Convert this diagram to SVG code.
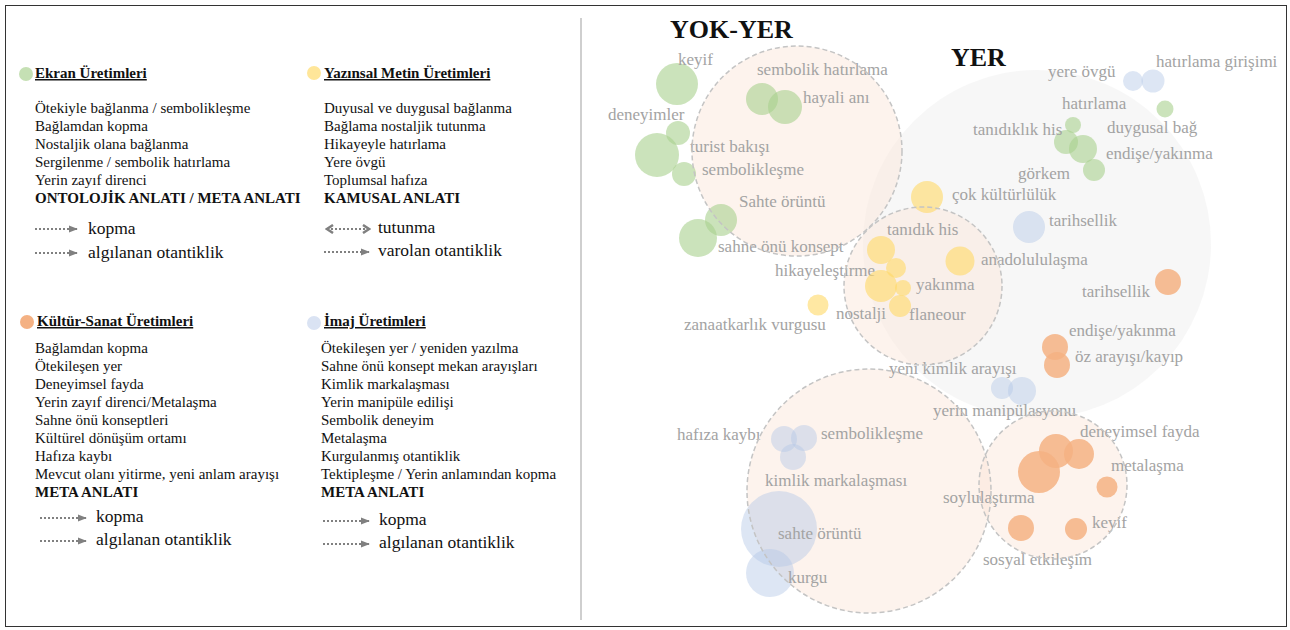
<svg xmlns="http://www.w3.org/2000/svg" width="1290" height="630" viewBox="0 0 1290 630">
<defs>
<style>
text{font-family:'Liberation Serif','Times New Roman','DejaVu Serif',serif}
.lg{font-size:15px;fill:#111}
.lgb{font-size:15px;font-weight:bold;fill:#111}
.lgt{font-size:15px;font-weight:bold;fill:#111;text-decoration:underline}
.ar{font-size:17.5px;fill:#111}
.dl{stroke:#808080;stroke-width:2;stroke-dasharray:2 2;fill:none}
.lb{font-size:17px;fill:#a3a3a3}
.ttl{font-size:26px;font-weight:bold;fill:#111}
.g{fill:#a9d18e;fill-opacity:0.6}
.y{fill:#ffd966;fill-opacity:0.6}
.o{fill:#f4b183;fill-opacity:0.85}
.b{fill:#b4c7e7;fill-opacity:0.45}
.cf{fill:#fbe5d6;fill-opacity:0.45}
.co{fill:none;stroke:#c4c4c4;stroke-width:1.5;stroke-dasharray:5 3}
</style>
<marker id="ah" viewBox="0 0 10 10" refX="9" refY="5" markerWidth="9" markerHeight="9" markerUnits="userSpaceOnUse" orient="auto"><path d="M0,1 L10,5 L0,9 Z" fill="#808080"/></marker>
<marker id="chev" viewBox="0 0 10 10" refX="8" refY="5" markerWidth="10" markerHeight="10" markerUnits="userSpaceOnUse" orient="auto-start-reverse"><path d="M2,1 L8,5 L2,9" fill="none" stroke="#808080" stroke-width="2.5"/></marker>
</defs>
<rect x="0" y="0" width="1290" height="630" fill="#fff"/>
<rect x="5.5" y="5.5" width="1281" height="621" fill="none" stroke="#333" stroke-width="1"/>
<line x1="581" y1="18" x2="581" y2="620" stroke="#bfbfbf" stroke-width="1.5"/>

<g id="legend-ekran" font-family="Liberation Serif, DejaVu Serif, serif">
<circle cx="26" cy="74" r="7" fill="#c5e0b4"/>
<text class="lgt" x="35" y="78">Ekran Üretimleri</text>
<text class="lg" x="35" y="113">Ötekiyle bağlanma / sembolikleşme</text>
<text class="lg" x="35" y="131">Bağlamdan kopma</text>
<text class="lg" x="35" y="149">Nostaljik olana bağlanma</text>
<text class="lg" x="35" y="167">Sergilenme / sembolik hatırlama</text>
<text class="lg" x="35" y="185">Yerin zayıf direnci</text>
<text class="lgb" x="35" y="203">ONTOLOJİK ANLATI / META ANLATI</text>
<text class="ar" x="88" y="234">kopma</text>
<text class="ar" x="88" y="258">algılanan otantiklik</text>
</g>
<g id="legend-yazinsal">
<circle cx="314" cy="73" r="7" fill="#ffe699"/>
<text class="lgt" x="324" y="78">Yazınsal Metin Üretimleri</text>
<text class="lg" x="324" y="113">Duyusal ve duygusal bağlanma</text>
<text class="lg" x="324" y="131">Bağlama nostaljik tutunma</text>
<text class="lg" x="324" y="149">Hikayeyle hatırlama</text>
<text class="lg" x="324" y="167">Yere övgü</text>
<text class="lg" x="324" y="185">Toplumsal hafıza</text>
<text class="lgb" x="324" y="203">KAMUSAL ANLATI</text>
<text class="ar" x="378" y="233">tutunma</text>
<text class="ar" x="378" y="256">varolan otantiklik</text>
</g>
<g id="legend-kultur">
<circle cx="27" cy="322" r="7" fill="#f4b183"/>
<text class="lgt" x="37" y="326">Kültür-Sanat Üretimleri</text>
<text class="lg" x="35" y="353">Bağlamdan kopma</text>
<text class="lg" x="35" y="371">Ötekileşen yer</text>
<text class="lg" x="35" y="389">Deneyimsel fayda</text>
<text class="lg" x="35" y="407">Yerin zayıf direnci/Metalaşma</text>
<text class="lg" x="35" y="425">Sahne önü konseptleri</text>
<text class="lg" x="35" y="443">Kültürel dönüşüm ortamı</text>
<text class="lg" x="35" y="461">Hafıza kaybı</text>
<text class="lg" x="35" y="479">Mevcut olanı yitirme, yeni anlam arayışı</text>
<text class="lgb" x="35" y="497">META ANLATI</text>
<text class="ar" x="96" y="522">kopma</text>
<text class="ar" x="96" y="545">algılanan otantiklik</text>
</g>
<g id="legend-imaj">
<circle cx="314" cy="323" r="7" fill="#dae3f3"/>
<text class="lgt" x="324" y="326">İmaj Üretimleri</text>
<text class="lg" x="321" y="353">Ötekileşen yer / yeniden yazılma</text>
<text class="lg" x="321" y="371">Sahne önü konsept mekan arayışları</text>
<text class="lg" x="321" y="389">Kimlik markalaşması</text>
<text class="lg" x="321" y="407">Yerin manipüle edilişi</text>
<text class="lg" x="321" y="425">Sembolik deneyim</text>
<text class="lg" x="321" y="443">Metalaşma</text>
<text class="lg" x="321" y="461">Kurgulanmış otantiklik</text>
<text class="lg" x="321" y="479">Tektipleşme / Yerin anlamından kopma</text>
<text class="lgb" x="321" y="497">META ANLATI</text>
<text class="ar" x="379" y="525">kopma</text>
<text class="ar" x="379" y="548">algılanan otantiklik</text>
</g>
<g id="legend-arrows">
<line class="dl" x1="35" y1="229" x2="77" y2="229" marker-end="url(#ah)"/>
<line class="dl" x1="35" y1="253" x2="77" y2="253" marker-end="url(#ah)"/>
<line class="dl" x1="327" y1="229" x2="369" y2="229" marker-start="url(#chev)" marker-end="url(#chev)"/>
<line class="dl" x1="324" y1="252" x2="369" y2="252" marker-end="url(#ah)"/>
<line class="dl" x1="40" y1="518" x2="86" y2="518" marker-end="url(#ah)"/>
<line class="dl" x1="40" y1="541" x2="86" y2="541" marker-end="url(#ah)"/>
<line class="dl" x1="323" y1="521" x2="369" y2="521" marker-end="url(#ah)"/>
<line class="dl" x1="323" y1="544" x2="369" y2="544" marker-end="url(#ah)"/>
</g>

<g id="cluster-fills">
<circle cx="1037" cy="244" r="174" fill="#ededed" fill-opacity="0.45"/>
<circle class="cf" cx="797" cy="151" r="105"/>
<circle class="cf" cx="923" cy="286" r="79"/>
<circle class="cf" cx="869" cy="491" r="122"/>
<circle class="cf" cx="1053" cy="485" r="74"/>
</g>
<text class="ttl" x="670" y="38">YOK-YER</text>
<text class="ttl" x="951" y="66">YER</text>

<g id="nodes-ekran">
<g id="n-keyif-g"><circle class="g" cx="677" cy="84" r="21"/><text class="lb" x="678" y="65">keyif</text></g>
<g id="n-sembolik-hatirlama"><circle class="g" cx="762" cy="99" r="16"/><text class="lb" x="757" y="75">sembolik hatırlama</text></g>
<g id="n-hayali-ani"><circle class="g" cx="785" cy="107" r="17"/><text class="lb" x="803" y="103">hayali anı</text></g>
<g id="n-deneyimler"><circle class="g" cx="678" cy="133" r="12"/><text class="lb" x="608" y="120">deneyimler</text></g>
<g id="n-turist-bakisi"><circle class="g" cx="657" cy="155" r="22"/><text class="lb" x="690" y="152">turist bakışı</text></g>
<g id="n-sembolikleşme-g"><circle class="g" cx="684" cy="174" r="12"/><text class="lb" x="702" y="175">sembolikleşme</text></g>
<g id="n-sahte-oruntu-g"><circle class="g" cx="721" cy="220" r="16"/><text class="lb" x="739" y="207">Sahte örüntü</text></g>
<g id="n-sahne-onu"><circle class="g" cx="698" cy="238" r="19"/><text class="lb" x="718" y="252">sahne önü konsept</text></g>
<g id="n-hatirlama"><circle class="g" cx="1073" cy="125" r="8"/><text class="lb" x="1062" y="109">hatırlama</text></g>
<g id="n-duygusal-bag"><circle class="g" cx="1165" cy="109" r="8.5"/><text class="lb" x="1107" y="133">duygusal bağ</text></g>
<g id="n-tanidiklik"><circle class="g" cx="1066" cy="142" r="12"/><text class="lb" x="973" y="135">tanıdıklık his</text></g>
<g id="n-endise-g"><circle class="g" cx="1083" cy="149" r="14"/><text class="lb" x="1106" y="159">endişe/yakınma</text></g>
<g id="n-gorkem"><circle class="g" cx="1094" cy="170" r="11"/><text class="lb" x="1018" y="179">görkem</text></g>
</g>

<g id="nodes-yazinsal">
<g id="n-cok-kulturluluk"><circle class="y" cx="927" cy="197" r="16"/><text class="lb" x="952" y="200">çok kültürlülük</text></g>
<g id="n-tanidik-his"><circle class="y" cx="881" cy="250" r="14"/><text class="lb" x="887" y="235">tanıdık his</text></g>
<g id="n-hikayelestirme"><circle class="y" cx="896" cy="268" r="10"/><text class="lb" x="775" y="276">hikayeleştirme</text></g>
<g id="n-anadolululasma"><circle class="y" cx="960" cy="261" r="14.5"/><text class="lb" x="981" y="265">anadolululaşma</text></g>
<g id="n-nostalji"><circle class="y" cx="881" cy="286" r="16"/><text class="lb" x="836" y="319">nostalji</text></g>
<g id="n-yakinma"><circle class="y" cx="903" cy="288" r="8"/><text class="lb" x="916" y="290">yakınma</text></g>
<g id="n-flaneour"><circle class="y" cx="900" cy="306" r="11"/><text class="lb" x="909" y="320">flaneour</text></g>
<g id="n-zanaatkarlik"><circle class="y" cx="818" cy="305" r="10.5"/><text class="lb" x="684" y="330">zanaatkarlık vurgusu</text></g>
</g>

<g id="nodes-kultur">
<g id="n-tarihsellik-o"><circle class="o" cx="1168" cy="282" r="13"/><text class="lb" x="1082" y="297">tarihsellik</text></g>
<g id="n-endise-o"><circle class="o" cx="1055" cy="347" r="13"/><text class="lb" x="1069" y="336">endişe/yakınma</text></g>
<g id="n-oz-arayisi"><circle class="o" cx="1057" cy="365" r="13"/><text class="lb" x="1075" y="362">öz arayışı/kayıp</text></g>
<g id="n-deneyimsel-fayda"><circle class="o" cx="1056" cy="451" r="17"/><text class="lb" x="1080" y="437">deneyimsel fayda</text></g>
<g id="n-metalasma"><circle class="o" cx="1079" cy="454" r="15"/><text class="lb" x="1111" y="471">metalaşma</text></g>
<g id="n-soylulastirma"><circle class="o" cx="1039" cy="472" r="21"/><text class="lb" x="943" y="503">soylulaştırma</text></g>
<g id="n-metalasma2"><circle class="o" cx="1107" cy="487" r="10.5"/></g>
<g id="n-sosyal"><circle class="o" cx="1021" cy="528" r="13"/><text class="lb" x="983" y="565">sosyal etkileşim</text></g>
<g id="n-keyif-o"><circle class="o" cx="1076" cy="529" r="11"/><text class="lb" x="1092" y="528">keyif</text></g>
</g>

<g id="nodes-imaj">
<g id="n-yere-ovgu"><circle class="b" cx="1133" cy="81" r="10"/><text class="lb" x="1048" y="77">yere övgü</text></g>
<g id="n-hatirlama-girisimi"><circle class="b" cx="1153" cy="81" r="11.5"/><text class="lb" x="1156" y="67">hatırlama girişimi</text></g>
<g id="n-tarihsellik-b"><circle class="b" cx="1029" cy="227" r="16"/><text class="lb" x="1049" y="226">tarihsellik</text></g>
<g id="n-yeni-kimlik"><circle class="b" cx="1002" cy="388" r="11"/><text class="lb" x="889" y="374">yeni kimlik arayışı</text></g>
<g id="n-yerin-manipulasyonu"><circle class="b" cx="1022" cy="391" r="14"/><text class="lb" x="933" y="416">yerin manipülasyonu</text></g>
<g id="n-hafiza-kaybi"><circle class="b" cx="784" cy="439" r="13"/><text class="lb" x="677" y="440">hafıza kaybı</text></g>
<g id="n-sembolikleşme-b"><circle class="b" cx="804" cy="438" r="13"/><text class="lb" x="821" y="439">sembolikleşme</text></g>
<g id="n-kimlik"><circle class="b" cx="793" cy="457" r="13"/><text class="lb" x="765" y="486">kimlik markalaşması</text></g>
<g id="n-sahte-oruntu-b"><circle class="b" cx="779" cy="529" r="38"/><text class="lb" x="778" y="539">sahte örüntü</text></g>
<g id="n-kurgu"><circle class="b" cx="770" cy="573" r="24"/><text class="lb" x="788" y="583">kurgu</text></g>
</g>

<g id="cluster-outlines">
<circle class="co" cx="797" cy="151" r="105"/>
<circle class="co" cx="923" cy="286" r="79"/>
<circle class="co" cx="869" cy="491" r="122"/>
<circle class="co" cx="1053" cy="485" r="74"/>
</g>
</svg>
